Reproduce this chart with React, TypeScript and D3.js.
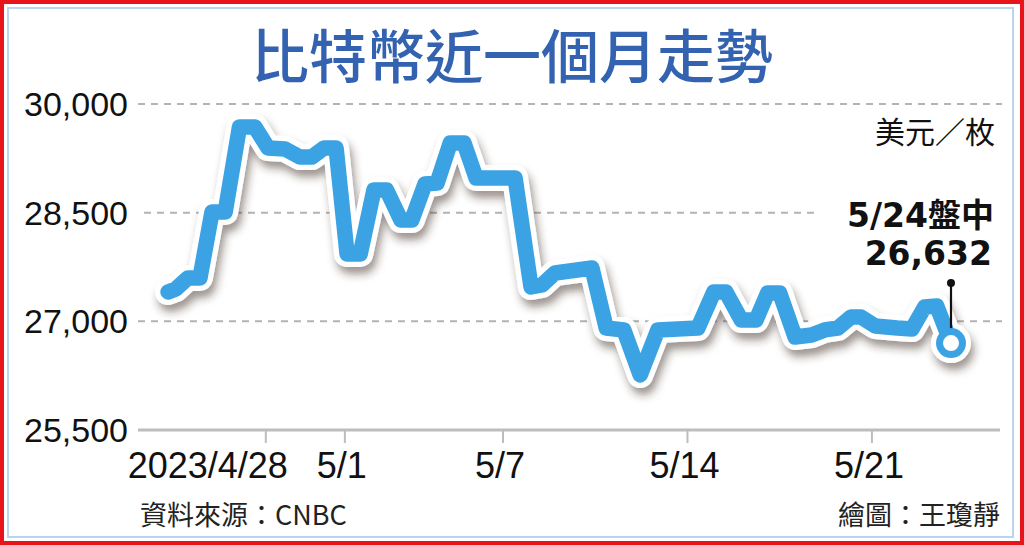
import React from "react";
import * as d3 from "d3";

// ---- data ----
const dates = [
  "2023-04-24 07:00", "2023-04-24 14:00", "2023-04-25 01:00", "2023-04-25 12:00",
  "2023-04-25 23:00", "2023-04-26 11:00", "2023-04-27 00:00", "2023-04-27 14:00",
  "2023-04-28 02:00", "2023-04-28 17:30", "2023-04-29 07:00", "2023-04-29 18:00",
  "2023-04-30 05:00", "2023-04-30 16:00", "2023-05-01 02:00", "2023-05-01 14:00",
  "2023-05-02 02:30", "2023-05-02 14:00", "2023-05-03 03:00", "2023-05-03 13:00",
  "2023-05-04 01:00", "2023-05-04 12:00", "2023-05-05 00:00", "2023-05-05 12:30",
  "2023-05-05 23:30", "2023-05-07 11:00", "2023-05-08 01:30", "2023-05-08 11:30",
  "2023-05-08 23:20", "2023-05-10 09:00", "2023-05-10 22:00", "2023-05-11 14:00",
  "2023-05-12 05:00", "2023-05-12 21:00", "2023-05-14 09:30", "2023-05-15 00:00",
  "2023-05-15 11:00", "2023-05-16 01:00", "2023-05-16 14:30", "2023-05-17 01:00",
  "2023-05-17 12:00", "2023-05-18 02:00", "2023-05-18 17:00", "2023-05-19 05:00",
  "2023-05-19 17:00", "2023-05-20 05:00", "2023-05-20 14:00", "2023-05-21 03:00",
  "2023-05-21 23:00", "2023-05-22 12:30", "2023-05-23 00:00", "2023-05-23 11:00",
  "2023-05-24 00:00",
];
const prices = [
  27405, 27446, 27598, 27598, 28509, 28509, 29683, 29683,
  29393, 29379, 29268, 29268, 29393, 29393, 27930, 27930,
  28813, 28813, 28399, 28399, 28896, 28910, 29462, 29462,
  28979, 28979, 27474, 27502, 27667, 27736, 26908, 26881,
  26259, 26881, 26908, 27405, 27405, 27019, 27019, 27391,
  27391, 26784, 26811, 26881, 26908, 27060, 27060, 26936,
  26908, 26894, 27198, 27212, 26700,
];
const yTicks = [25500, 27000, 28500, 30000];
const xTickDates = ["2023-04-28 00:00", "2023-05-01 00:00", "2023-05-07 00:00", "2023-05-14 00:00", "2023-05-21 00:00"];
const xTickLabels = ["2023/4/28", "5/1", "5/7", "5/14", "5/21"];
const xDomain = ["2023-04-24 00:00", "2023-05-24 00:00"];
const yDomain = [25500, 30000];

const titleText = "比特幣近一個月走勢";
const unitText = "美元／枚";
const noteDate = "5/24盤中";
const noteValue = "26,632";
const sourceText = "資料來源：CNBC";
const creditText = "繪圖：王瓊靜";

const BLUE = "#3ba3e4";
const CJK = "'Noto Sans CJK TC', 'Noto Sans CJK SC', sans-serif";
const LATIN = "'Liberation Sans', Arial, 'Noto Sans CJK TC', sans-serif";
const BOLD = "'DejaVu Sans', 'Noto Sans CJK TC', sans-serif";

export default function App() {
  const W = 1024;
  const H = 545;
  const parse = d3.timeParse("%Y-%m-%d %H:%M");
  const data = dates.map((d, i) => ({ date: parse(d) as Date, value: prices[i] }));

  const x = d3
    .scaleTime()
    .domain(xDomain.map((d) => parse(d) as Date))
    .range([160.4, 951]);
  const y = d3.scaleLinear().domain(yDomain).range([430, 104]);

  const line = d3
    .line<{ date: Date; value: number }>()
    .x((d) => x(d.date))
    .y((d) => y(d.value));
  const path = line(data) || "";
  const last = data[data.length - 1];
  const lx = x(last.date);
  const ly = y(last.value);

  const fmt = d3.format(",");

  const gridExtent = (v: number): [number, number] => {
    if (v === 28500) return [144, 814];
    return [138, 1002];
  };

  return (
    <svg
      width={W}
      height={H}
      viewBox={`0 0 ${W} ${H}`}
      style={{ position: "absolute", left: 0, top: 0, background: "#fff" }}
    >
      <defs>
        <filter id="shadow" x="-5%" y="-10%" width="115%" height="130%">
          <feDropShadow dx="3" dy="7" stdDeviation="4.5" floodColor="#3a2c24" floodOpacity="0.5" />
        </filter>
      </defs>
      <rect x={0} y={0} width={W} height={H} fill="#fff" />
      {/* borders */}
      <rect x={2} y={2} width={W - 4} height={H - 4} fill="none" stroke="#e8141c" strokeWidth={4} />
      <rect x={8} y={8} width={1005} height={529} fill="none" stroke="#b9d5ef" strokeWidth={2} />

      {/* title */}
      <text
        x={512}
        y={78}
        textAnchor="middle"
        fontFamily={CJK}
        fontWeight={500}
        fontSize={58}
        fill="#3262b0"
      >
        {titleText}
      </text>

      {/* grid */}
      {yTicks.map((v) => {
        const [x1, x2] = gridExtent(v);
        const isBase = v === yDomain[0];
        return (
          <line
            key={v}
            x1={x1}
            x2={isBase ? 1000 : x2}
            y1={y(v)}
            y2={y(v)}
            stroke={isBase ? "#bdbdbd" : "#b3b3b3"}
            strokeWidth={isBase ? 3 : 2}
            strokeDasharray={isBase ? undefined : "7 6"}
          />
        );
      })}
      {/* y labels */}
      {yTicks.map((v) => (
        <text
          key={"l" + v}
          x={128}
          y={y(v) + 12}
          textAnchor="end"
          fontFamily={LATIN}
          fontSize={34}
          fill="#111"
        >
          {fmt(v)}
        </text>
      ))}

      {/* x ticks */}
      {xTickDates.map((d, i) => {
        const tx = x(parse(d) as Date);
        return (
          <g key={d}>
            <line x1={tx} x2={tx} y1={430} y2={443} stroke="#bdbdbd" strokeWidth={2} />
            <text
              x={i === 0 ? tx + 22 : tx - 3}
              y={478}
              textAnchor={i === 0 ? "end" : "middle"}
              fontFamily={LATIN}
              fontSize={36}
              fill="#111"
            >
              {xTickLabels[i]}
            </text>
          </g>
        );
      })}

      {/* line with white outline and shadow */}
      <g filter="url(#shadow)">
        <path d={path} fill="none" stroke="#fff" strokeWidth={26} strokeLinejoin="round" strokeLinecap="round" />
        <circle cx={lx} cy={ly} r={20} fill="#fff" />
      </g>
      <path d={path} fill="none" stroke={BLUE} strokeWidth={15.5} strokeLinejoin="round" strokeLinecap="round" />
      <circle cx={lx} cy={ly} r={15} fill={BLUE} />
      <circle cx={lx} cy={ly} r={8} fill="#fff" />

      {/* pin */}
      <line x1={lx} x2={lx} y1={ly - 60} y2={ly - 15} stroke="#111" strokeWidth={2.2} />
      <circle cx={lx} cy={ly - 60} r={4} fill="#111" />

      {/* annotations */}
      <text x={995} y={143} textAnchor="end" fontFamily={CJK} fontSize={30} fill="#111">
        {unitText}
      </text>
      <text x={994} y={227} textAnchor="end" fontFamily={BOLD} fontWeight={700} fontSize={33} fill="#111">
        {noteDate}
      </text>
      <text x={992} y={265} textAnchor="end" fontFamily={BOLD} fontWeight={700} fontSize={33} fill="#111">
        {noteValue}
      </text>

      {/* footer */}
      <text x={140} y={525} fontFamily={CJK} fontSize={27} fill="#222">
        {sourceText}
      </text>
      <text x={1000} y={525} textAnchor="end" fontFamily={CJK} fontSize={27} fill="#222">
        {creditText}
      </text>
    </svg>
  );
}
